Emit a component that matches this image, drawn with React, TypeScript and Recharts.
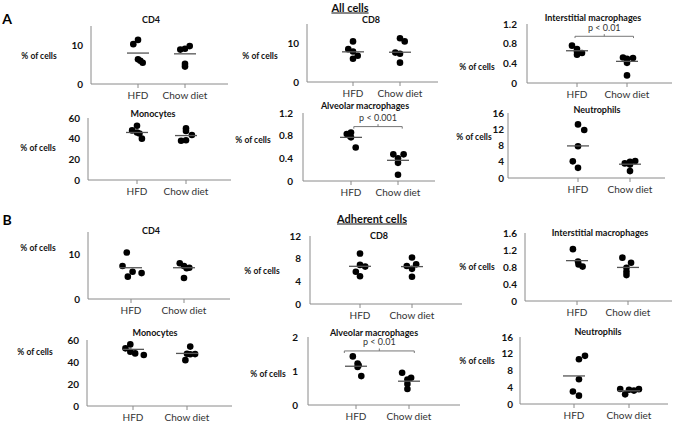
import { ScatterChart, Scatter, XAxis, YAxis, ReferenceLine } from 'recharts'

// [jitter around the group, value]
type Pt = [number, number]

const groups = ['HFD', 'Chow diet']

// A - All cells
const cd4AllHfd: Pt[] = [[-0.1, 10.3], [0, 11.4], [0, 6.4], [0.05, 6.0], [0.1, 5.5]]
const cd4AllChow: Pt[] = [[-0.1, 8.9], [0, 9.1], [0.1, 9.8], [0, 5.2], [0, 4.5]]
const cd4AllMeans = [8.0, 7.8]

const monoAllHfd: Pt[] = [[0, 52.5], [-0.1, 48], [0, 46], [0.05, 45], [0.1, 40]]
const monoAllChow: Pt[] = [[0, 50], [0, 47.5], [0.12, 43.5], [-0.1, 38], [0, 38.5]]
const monoAllMeans = [46, 43]

const cd8AllHfd: Pt[] = [[0, 10.5], [-0.1, 8.5], [0, 7.9], [0.1, 6.8], [0, 6.0]]
const cd8AllChow: Pt[] = [[0, 11.3], [0.1, 10.5], [-0.1, 7.6], [0, 7.3], [0, 5.0]]
const cd8AllMeans = [7.8, 7.7]

const alvAllHfd: Pt[] = [[-0.09, 0.83], [0, 0.855], [-0.03, 0.8], [0, 0.77], [0.1, 0.59]]
const alvAllChow: Pt[] = [[-0.1, 0.47], [0.12, 0.47], [0, 0.4], [0, 0.32], [0, 0.11]]
const alvAllMeans = [0.77, 0.365]

const intAllHfd: Pt[] = [[-0.1, 0.76], [0, 0.69], [0.1, 0.61], [0, 0.575], [0, 0.64]]
const intAllChow: Pt[] = [[-0.08, 0.52], [0.12, 0.51], [0, 0.49], [0, 0.41], [0, 0.155]]
const intAllMeans = [0.656, 0.44]

const neuAllHfd: Pt[] = [[0, 13.2], [0.12, 11.8], [0, 7.8], [-0.1, 4.1], [0, 2.5]]
const neuAllChow: Pt[] = [[0.1, 4.2], [0, 4.0], [-0.1, 3.6], [0, 3.3], [0, 1.7]]
const neuAllMeans = [7.9, 3.4]

// B - Adherent cells
const cd4AdhHfd: Pt[] = [[-0.08, 10.4], [-0.16, 7.4], [0.03, 6.1], [0.2, 5.8], [-0.06, 5.0]]
const cd4AdhChow: Pt[] = [[-0.08, 8.0], [0, 7.4], [0.1, 7.0], [0.05, 6.9], [0, 4.7]]
const cd4AdhMeans = [7.0, 7.0]

const monoAdhHfd: Pt[] = [[-0.05, 56], [-0.14, 52.4], [-0.05, 49.3], [0.04, 47.8], [0.2, 46.3]]
const monoAdhChow: Pt[] = [[0.06, 54], [0, 47.5], [0.06, 47], [0.15, 47.2], [-0.03, 41.7]]
const monoAdhMeans = [51.5, 47.8]

const cd8AdhHfd: Pt[] = [[0, 8.9], [0, 6.9], [0.1, 6.6], [-0.08, 5.7], [0, 4.9]]
const cd8AdhChow: Pt[] = [[0, 8.2], [-0.1, 6.7], [0.08, 7.0], [0, 6.2], [0, 4.8]]
const cd8AdhMeans = [6.65, 6.6]

const alvAdhHfd: Pt[] = [[-0.06, 1.43], [0.03, 1.22], [0.03, 1.12], [0.05, 1.17], [0.1, 0.85]]
const alvAdhChow: Pt[] = [[-0.13, 0.95], [0.04, 0.8], [-0.03, 0.75], [-0.03, 0.62], [-0.03, 0.47]]
const alvAdhMeans = [1.14, 0.7]

const intAdhHfd: Pt[] = [[-0.08, 1.22], [0.02, 0.93], [0.03, 0.86], [0.11, 0.81]]
const intAdhChow: Pt[] = [[-0.11, 1.02], [0.06, 0.9], [-0.03, 0.78], [-0.03, 0.69], [-0.03, 0.61]]
const intAdhMeans = [0.95, 0.79]

const neuAdhHfd: Pt[] = [[0.2, 11.5], [0.09, 10.7], [0.09, 5.9], [-0.02, 3.0], [0.09, 2.0]]
const neuAdhChow: Pt[] = [[-0.16, 3.6], [0.18, 3.55], [0, 3.4], [0.09, 3.2], [-0.07, 2.3]]
const neuAdhMeans = [6.7, 3.15]

interface Sig {
  from: number
  to: number
  y: number
  label: string
}

interface Box {
  x0: number
  x1: number
  top: number
  bottom: number
  c1: number
  c2: number
}

interface PanelSpec {
  title: string
  titleAt: [number, number]
  yLabelAt: [number, number]
  hfd: Pt[]
  chow: Pt[]
  means: number[]
  yMax: number
  ticks: number[]
  box: Box
  tickGap?: number
  sig?: Sig
}

const panels: PanelSpec[] = [
  {
    title: 'CD4', titleAt: [151, 19], yLabelAt: [39, 56],
    hfd: cd4AllHfd, chow: cd4AllChow, means: cd4AllMeans, yMax: 15, ticks: [0, 10],
    box: { x0: 91, x1: 228, top: 26, bottom: 84, c1: 138, c2: 185 },
  },
  {
    title: 'Monocytes', titleAt: [153, 113], yLabelAt: [38, 148],
    hfd: monoAllHfd, chow: monoAllChow, means: monoAllMeans, yMax: 60, ticks: [0, 20, 40, 60],
    box: { x0: 88, x1: 231, top: 118, bottom: 180, c1: 137, c2: 186 },
  },
  {
    title: 'CD8', titleAt: [371, 19], yLabelAt: [260, 56],
    hfd: cd8AllHfd, chow: cd8AllChow, means: cd8AllMeans, yMax: 15, ticks: [0, 10],
    box: { x0: 307, x1: 438, top: 24, bottom: 82, c1: 353, c2: 400 },
  },
  {
    title: 'Alveolar macrophages', titleAt: [365, 105], yLabelAt: [253, 140],
    hfd: alvAllHfd, chow: alvAllChow, means: alvAllMeans, yMax: 1.2, ticks: [0, 0.4, 0.8, 1.2],
    box: { x0: 303, x1: 435, top: 113, bottom: 181, c1: 351, c2: 398 }, tickGap: 10,
    sig: { from: 1.06, to: 2.09, y: 0.96, label: 'p < 0.001' },
  },
  {
    title: 'Interstitial macrophages', titleAt: [593, 17], yLabelAt: [477, 67],
    hfd: intAllHfd, chow: intAllChow, means: intAllMeans, yMax: 1.2, ticks: [0, 0.4, 0.8, 1.2],
    box: { x0: 527, x1: 672, top: 24, bottom: 83, c1: 577, c2: 627 }, tickGap: 10,
    sig: { from: 0.96, to: 2.13, y: 0.95, label: 'p < 0.01' },
  },
  {
    title: 'Neutrophils', titleAt: [597, 109], yLabelAt: [474, 137],
    hfd: neuAllHfd, chow: neuAllChow, means: neuAllMeans, yMax: 16, ticks: [0, 4, 8, 12, 16],
    box: { x0: 508, x1: 665, top: 113, bottom: 178, c1: 578, c2: 630 }, tickGap: 4,
  },
  {
    title: 'CD4', titleAt: [151, 230], yLabelAt: [38, 248],
    hfd: cd4AdhHfd, chow: cd4AdhChow, means: cd4AdhMeans, yMax: 15, ticks: [0, 10],
    box: { x0: 88, x1: 230, top: 232, bottom: 299, c1: 131, c2: 184 },
  },
  {
    title: 'Monocytes', titleAt: [155, 332], yLabelAt: [35, 352],
    hfd: monoAdhHfd, chow: monoAdhChow, means: monoAdhMeans, yMax: 60, ticks: [0, 20, 40, 60],
    box: { x0: 87, x1: 232, top: 340, bottom: 406, c1: 133, c2: 187 },
  },
  {
    title: 'CD8', titleAt: [379, 235], yLabelAt: [262, 271],
    hfd: cd8AdhHfd, chow: cd8AdhChow, means: cd8AdhMeans, yMax: 12, ticks: [0, 4, 8, 12],
    box: { x0: 310, x1: 462, top: 236, bottom: 304, c1: 360, c2: 412 }, tickGap: 9,
  },
  {
    title: 'Alveolar macrophages', titleAt: [374, 332], yLabelAt: [268, 374],
    hfd: alvAdhHfd, chow: alvAdhChow, means: alvAdhMeans, yMax: 2, ticks: [0, 1, 2],
    box: { x0: 308, x1: 460, top: 337, bottom: 405, c1: 356, c2: 409 }, tickGap: 10,
    sig: { from: 0.78, to: 2.1, y: 1.59, label: 'p < 0.01' },
  },
  {
    title: 'Interstitial macrophages', titleAt: [600, 232], yLabelAt: [477, 267],
    hfd: intAdhHfd, chow: intAdhChow, means: intAdhMeans, yMax: 1.6, ticks: [0, 0.4, 0.8, 1.2, 1.6],
    box: { x0: 525, x1: 672, top: 233, bottom: 301, c1: 577, c2: 628 },
  },
  {
    title: 'Neutrophils', titleAt: [598, 331], yLabelAt: [477, 361],
    hfd: neuAdhHfd, chow: neuAdhChow, means: neuAdhMeans, yMax: 16, ticks: [0, 4, 8, 12, 16],
    box: { x0: 520, x1: 668, top: 337, bottom: 404, c1: 574, c2: 629 }, tickGap: 7,
  },
]

const FONT = 'Lato, "Open Sans", sans-serif'
const AXIS = '#8a8a8a'

function Label({ at, text, style }: { at: [number, number]; text: string; style?: React.CSSProperties }) {
  return (
    <div
      style={{
        position: 'absolute',
        left: at[0],
        top: at[1],
        transform: 'translate(-50%, -50%)',
        whiteSpace: 'nowrap',
        lineHeight: 1,
        ...style,
      }}
    >
      {text}
    </div>
  )
}

const Dot = (props: any) => <circle cx={props.cx} cy={props.cy} r={3.3} fill="#000" />
const MeanBar = (props: any) => (
  <line x1={props.cx - 11} x2={props.cx + 11} y1={props.cy} y2={props.cy} stroke="#555" strokeWidth={1.3} />
)

function Panel({ spec }: { spec: PanelSpec }) {
  const { x0, x1, top, bottom, c1, c2 } = spec.box
  const unit = c2 - c1
  const xMin = 1 - (c1 - x0) / unit
  const xMax = 1 + (x1 - c1) / unit
  const yAxisW = 40
  const mTop = 10
  const xAxisH = 26
  const width = x1 - x0 + yAxisW + 2
  const height = bottom - top + mTop + xAxisH

  const points = [
    ...spec.hfd.map(([j, v]) => ({ x: 1 + j, y: v })),
    ...spec.chow.map(([j, v]) => ({ x: 2 + j, y: v })),
  ]
  const meanPoints = spec.means.map((m, i) => ({ x: i + 1, y: m }))
  const sig = spec.sig
  const d = spec.yMax * 0.03

  return (
    <div style={{ position: 'absolute', left: x0 - yAxisW, top: top - mTop }}>
      <ScatterChart width={width} height={height} margin={{ top: mTop, right: 2, bottom: 0, left: 0 }}>
        <XAxis
          type="number"
          dataKey="x"
          domain={[xMin, xMax]}
          ticks={[1, 2]}
          interval={0}
          tickFormatter={(v: number) => groups[Math.round(v) - 1]}
          height={xAxisH}
          stroke={AXIS}
          tickSize={4}
          tickMargin={4}
          tick={{ fontSize: 10, fill: '#333', fontFamily: FONT }}
          allowDataOverflow
        />
        <YAxis
          type="number"
          dataKey="y"
          domain={[0, spec.yMax]}
          ticks={spec.ticks}
          interval={0}
          width={yAxisW}
          stroke={AXIS}
          tickLine={false}
          tickSize={0}
          tickMargin={spec.tickGap ?? 8}
          tick={{ fontSize: 10, fontWeight: 700, fill: '#111', fontFamily: FONT }}
          allowDataOverflow
        />
        {sig && (
          <>
            <ReferenceLine segment={[{ x: sig.from, y: sig.y }, { x: sig.to, y: sig.y }]} stroke="#777" />
            <ReferenceLine segment={[{ x: sig.from, y: sig.y }, { x: sig.from, y: sig.y - d }]} stroke="#777" />
            <ReferenceLine segment={[{ x: sig.to, y: sig.y }, { x: sig.to, y: sig.y - d }]} stroke="#777" />
            <ReferenceLine
              segment={[
                { x: (sig.from + sig.to) / 2, y: sig.y },
                { x: (sig.from + sig.to) / 2, y: sig.y + d * 1.2 },
              ]}
              stroke="#777"
              label={{ value: sig.label, position: 'top', offset: 3, fontSize: 9, fill: '#333', fontFamily: FONT }}
            />
          </>
        )}
        <Scatter data={points} shape={Dot} isAnimationActive={false} />
        <Scatter data={meanPoints} shape={MeanBar} isAnimationActive={false} />
      </ScatterChart>
    </div>
  )
}

export default function App() {
  const titleStyle: React.CSSProperties = { fontSize: 9, fontWeight: 700, color: '#111' }
  const yLabelStyle: React.CSSProperties = { fontSize: 8.5, fontWeight: 700, color: '#111' }
  const headStyle: React.CSSProperties = { fontSize: 11, fontWeight: 700, textDecoration: 'underline', color: '#111' }
  return (
    <div
      style={{
        position: 'absolute',
        left: 0,
        top: 0,
        width: 685,
        height: 424,
        background: '#fff',
        overflow: 'hidden',
        fontFamily: FONT,
      }}
    >
      {panels.map((p, i) => (
        <Panel key={i} spec={p} />
      ))}
      {panels.map((p, i) => (
        <Label key={'t' + i} at={p.titleAt} text={p.title} style={titleStyle} />
      ))}
      {panels.map((p, i) => (
        <Label key={'y' + i} at={p.yLabelAt} text="% of cells" style={yLabelStyle} />
      ))}
      <Label at={[350, 7]} text="All cells" style={headStyle} />
      <Label at={[372, 218]} text="Adherent cells" style={headStyle} />
      <Label at={[7, 19]} text="A" style={{ fontSize: 14, fontWeight: 700 }} />
      <Label at={[7, 220]} text="B" style={{ fontSize: 14, fontWeight: 700 }} />
    </div>
  )
}
